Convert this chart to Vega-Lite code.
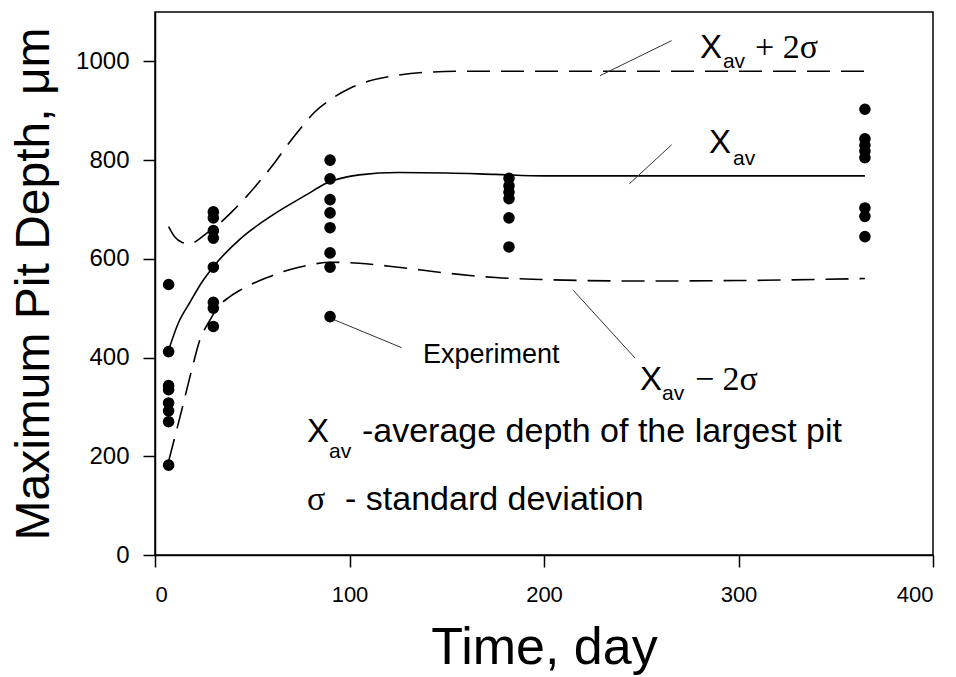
{
  "$schema": "https://vega.github.io/schema/vega-lite/v6.json",
  "width": 778,
  "height": 543,
  "autosize": {"type": "none"},
  "padding": {"left": 155, "top": 12, "right": 23, "bottom": 122},
  "background": "white",
  "config": {
    "view": {"stroke": "black", "strokeWidth": 1.5},
    "font": "Liberation Sans",
    "axis": {"grid": false, "domainColor": "black", "domainWidth": 1.5, "tickColor": "black", "tickWidth": 1.5, "labelColor": "black", "titleColor": "black", "titleFontWeight": "normal", "labelFont": "Liberation Sans", "titleFont": "Liberation Sans"}
  },
  "datasets": {
    "curves": [
      {"series": "mean", "day": 7, "depth": 415},
      {"series": "mean", "day": 12, "depth": 470},
      {"series": "mean", "day": 18, "depth": 512},
      {"series": "mean", "day": 24, "depth": 552},
      {"series": "mean", "day": 30, "depth": 584},
      {"series": "mean", "day": 44, "depth": 641},
      {"series": "mean", "day": 61, "depth": 690},
      {"series": "mean", "day": 78, "depth": 730},
      {"series": "mean", "day": 88, "depth": 753},
      {"series": "mean", "day": 105, "depth": 770},
      {"series": "mean", "day": 125, "depth": 775},
      {"series": "mean", "day": 150, "depth": 774},
      {"series": "mean", "day": 175, "depth": 771},
      {"series": "mean", "day": 200, "depth": 768},
      {"series": "mean", "day": 280, "depth": 768},
      {"series": "mean", "day": 365, "depth": 768},
      {"series": "upper", "day": 7, "depth": 665},
      {"series": "upper", "day": 10, "depth": 645},
      {"series": "upper", "day": 14, "depth": 633},
      {"series": "upper", "day": 18, "depth": 630},
      {"series": "upper", "day": 22, "depth": 638},
      {"series": "upper", "day": 27, "depth": 653},
      {"series": "upper", "day": 33, "depth": 671},
      {"series": "upper", "day": 40, "depth": 697},
      {"series": "upper", "day": 47, "depth": 726},
      {"series": "upper", "day": 54, "depth": 758},
      {"series": "upper", "day": 61, "depth": 792},
      {"series": "upper", "day": 68, "depth": 830},
      {"series": "upper", "day": 75, "depth": 865},
      {"series": "upper", "day": 82, "depth": 897},
      {"series": "upper", "day": 90, "depth": 922},
      {"series": "upper", "day": 100, "depth": 945},
      {"series": "upper", "day": 110, "depth": 960},
      {"series": "upper", "day": 125, "depth": 972},
      {"series": "upper", "day": 140, "depth": 978},
      {"series": "upper", "day": 160, "depth": 980},
      {"series": "upper", "day": 250, "depth": 980},
      {"series": "upper", "day": 365, "depth": 980},
      {"series": "lower", "day": 7, "depth": 190},
      {"series": "lower", "day": 13, "depth": 282},
      {"series": "lower", "day": 19, "depth": 377},
      {"series": "lower", "day": 23, "depth": 435},
      {"series": "lower", "day": 28, "depth": 474},
      {"series": "lower", "day": 33, "depth": 505},
      {"series": "lower", "day": 38, "depth": 522},
      {"series": "lower", "day": 44, "depth": 537},
      {"series": "lower", "day": 57, "depth": 561},
      {"series": "lower", "day": 74, "depth": 583},
      {"series": "lower", "day": 91, "depth": 593},
      {"series": "lower", "day": 105, "depth": 591},
      {"series": "lower", "day": 125, "depth": 583},
      {"series": "lower", "day": 150, "depth": 571},
      {"series": "lower", "day": 175, "depth": 562},
      {"series": "lower", "day": 200, "depth": 558},
      {"series": "lower", "day": 250, "depth": 555},
      {"series": "lower", "day": 300, "depth": 556},
      {"series": "lower", "day": 365, "depth": 560}
    ],
    "points": [
      {"day": 7, "depth": 548}, {"day": 7, "depth": 412}, {"day": 7, "depth": 343}, {"day": 7, "depth": 335},
      {"day": 7, "depth": 308}, {"day": 7, "depth": 292}, {"day": 7, "depth": 270}, {"day": 7, "depth": 182},
      {"day": 30, "depth": 695}, {"day": 30, "depth": 683}, {"day": 30, "depth": 657}, {"day": 30, "depth": 642},
      {"day": 30, "depth": 583}, {"day": 30, "depth": 512}, {"day": 30, "depth": 500}, {"day": 30, "depth": 463},
      {"day": 90, "depth": 800}, {"day": 90, "depth": 762}, {"day": 90, "depth": 720}, {"day": 90, "depth": 693},
      {"day": 90, "depth": 663}, {"day": 90, "depth": 612}, {"day": 90, "depth": 583}, {"day": 90, "depth": 483},
      {"day": 182, "depth": 763}, {"day": 182, "depth": 748}, {"day": 182, "depth": 735}, {"day": 182, "depth": 722},
      {"day": 182, "depth": 683}, {"day": 182, "depth": 624},
      {"day": 365, "depth": 903}, {"day": 365, "depth": 843}, {"day": 365, "depth": 830}, {"day": 365, "depth": 818},
      {"day": 365, "depth": 805}, {"day": 365, "depth": 703}, {"day": 365, "depth": 686}, {"day": 365, "depth": 645}
    ],
    "leaders": [
      {"day": 228.8, "depth": 971, "day2": 265.6, "depth2": 1042},
      {"day": 243.9, "depth": 752, "day2": 265.6, "depth2": 831},
      {"day": 215.1, "depth": 536, "day2": 246.8, "depth2": 399},
      {"day": 90, "depth": 480, "day2": 126.8, "depth2": 420}
    ],
    "xLabels": [
      {"day": 280.2, "depth": 1007, "t": "X"},
      {"day": 284.8, "depth": 815, "t": "X"},
      {"day": 249.4, "depth": 334, "t": "X"},
      {"day": 78.1, "depth": 229, "t": "X"}
    ],
    "subLabels": [
      {"day": 292, "depth": 987, "t": "av"},
      {"day": 297.2, "depth": 790, "t": "av"},
      {"day": 260.7, "depth": 314, "t": "av"},
      {"day": 89.5, "depth": 197, "t": "av"}
    ],
    "serifLabels": [
      {"day": 308.5, "depth": 1007, "t": "+ 2σ"},
      {"day": 277.6, "depth": 334, "t": "− 2σ"},
      {"day": 78.1, "depth": 91, "t": "σ"}
    ],
    "bodyLabels": [
      {"day": 106.4, "depth": 229, "t": "-average depth of the largest pit"},
      {"day": 97.7, "depth": 91, "t": "- standard deviation"}
    ],
    "expLabel": [
      {"day": 137.8, "depth": 389, "t": "Experiment"}
    ]
  },
  "layer": [
    {
      "data": {"name": "curves"},
      "transform": [{"filter": "datum.series === 'mean'"}],
      "mark": {"type": "line", "color": "black", "strokeWidth": 1.6, "interpolate": "monotone"},
      "encoding": {
        "x": {"field": "day", "type": "quantitative", "scale": {"domain": [0, 400], "nice": false, "zero": false},
          "axis": {"values": [0, 100, 200, 300, 400], "format": "d", "tickSize": 12, "labelFontSize": 22, "labelPadding": 17, "title": "Time, day", "titleFontSize": 52, "titleBaseline": "alphabetic", "titleY": 108}},
        "y": {"field": "depth", "type": "quantitative", "scale": {"domain": [0, 1100], "nice": false},
          "axis": {"values": [0, 200, 400, 600, 800, 1000], "format": "d", "tickSize": 12, "labelFontSize": 24, "labelPadding": 14, "title": "Maximum Pit Depth, μm", "titleFontSize": 48, "titleBaseline": "alphabetic", "titleX": -107}}
      }
    },
    {
      "data": {"name": "curves"},
      "transform": [{"filter": "datum.series !== 'mean'"}],
      "mark": {"type": "line", "color": "black", "strokeWidth": 1.6, "interpolate": "monotone", "strokeDash": [23, 11]},
      "encoding": {
        "x": {"field": "day", "type": "quantitative"},
        "y": {"field": "depth", "type": "quantitative"},
        "detail": {"field": "series"}
      }
    },
    {
      "data": {"name": "leaders"},
      "mark": {"type": "rule", "color": "#333333", "strokeWidth": 1},
      "encoding": {
        "x": {"field": "day", "type": "quantitative"},
        "y": {"field": "depth", "type": "quantitative"},
        "x2": {"field": "day2"},
        "y2": {"field": "depth2"}
      }
    },
    {
      "data": {"name": "points"},
      "mark": {"type": "circle", "color": "black", "opacity": 1, "size": 135},
      "encoding": {
        "x": {"field": "day", "type": "quantitative"},
        "y": {"field": "depth", "type": "quantitative"}
      }
    },
    {
      "data": {"name": "xLabels"},
      "mark": {"type": "text", "align": "left", "baseline": "alphabetic", "fontSize": 33, "font": "Liberation Sans", "color": "black"},
      "encoding": {"x": {"field": "day", "type": "quantitative"}, "y": {"field": "depth", "type": "quantitative"}, "text": {"field": "t"}}
    },
    {
      "data": {"name": "subLabels"},
      "mark": {"type": "text", "align": "left", "baseline": "alphabetic", "fontSize": 21, "font": "Liberation Sans", "color": "black"},
      "encoding": {"x": {"field": "day", "type": "quantitative"}, "y": {"field": "depth", "type": "quantitative"}, "text": {"field": "t"}}
    },
    {
      "data": {"name": "serifLabels"},
      "mark": {"type": "text", "align": "left", "baseline": "alphabetic", "fontSize": 34, "font": "Liberation Serif", "color": "black"},
      "encoding": {"x": {"field": "day", "type": "quantitative"}, "y": {"field": "depth", "type": "quantitative"}, "text": {"field": "t"}}
    },
    {
      "data": {"name": "bodyLabels"},
      "mark": {"type": "text", "align": "left", "baseline": "alphabetic", "fontSize": 34, "font": "Liberation Sans", "color": "black"},
      "encoding": {"x": {"field": "day", "type": "quantitative"}, "y": {"field": "depth", "type": "quantitative"}, "text": {"field": "t"}}
    },
    {
      "data": {"name": "expLabel"},
      "mark": {"type": "text", "align": "left", "baseline": "alphabetic", "fontSize": 27, "font": "Liberation Sans", "color": "black"},
      "encoding": {"x": {"field": "day", "type": "quantitative"}, "y": {"field": "depth", "type": "quantitative"}, "text": {"field": "t"}}
    }
  ]
}
